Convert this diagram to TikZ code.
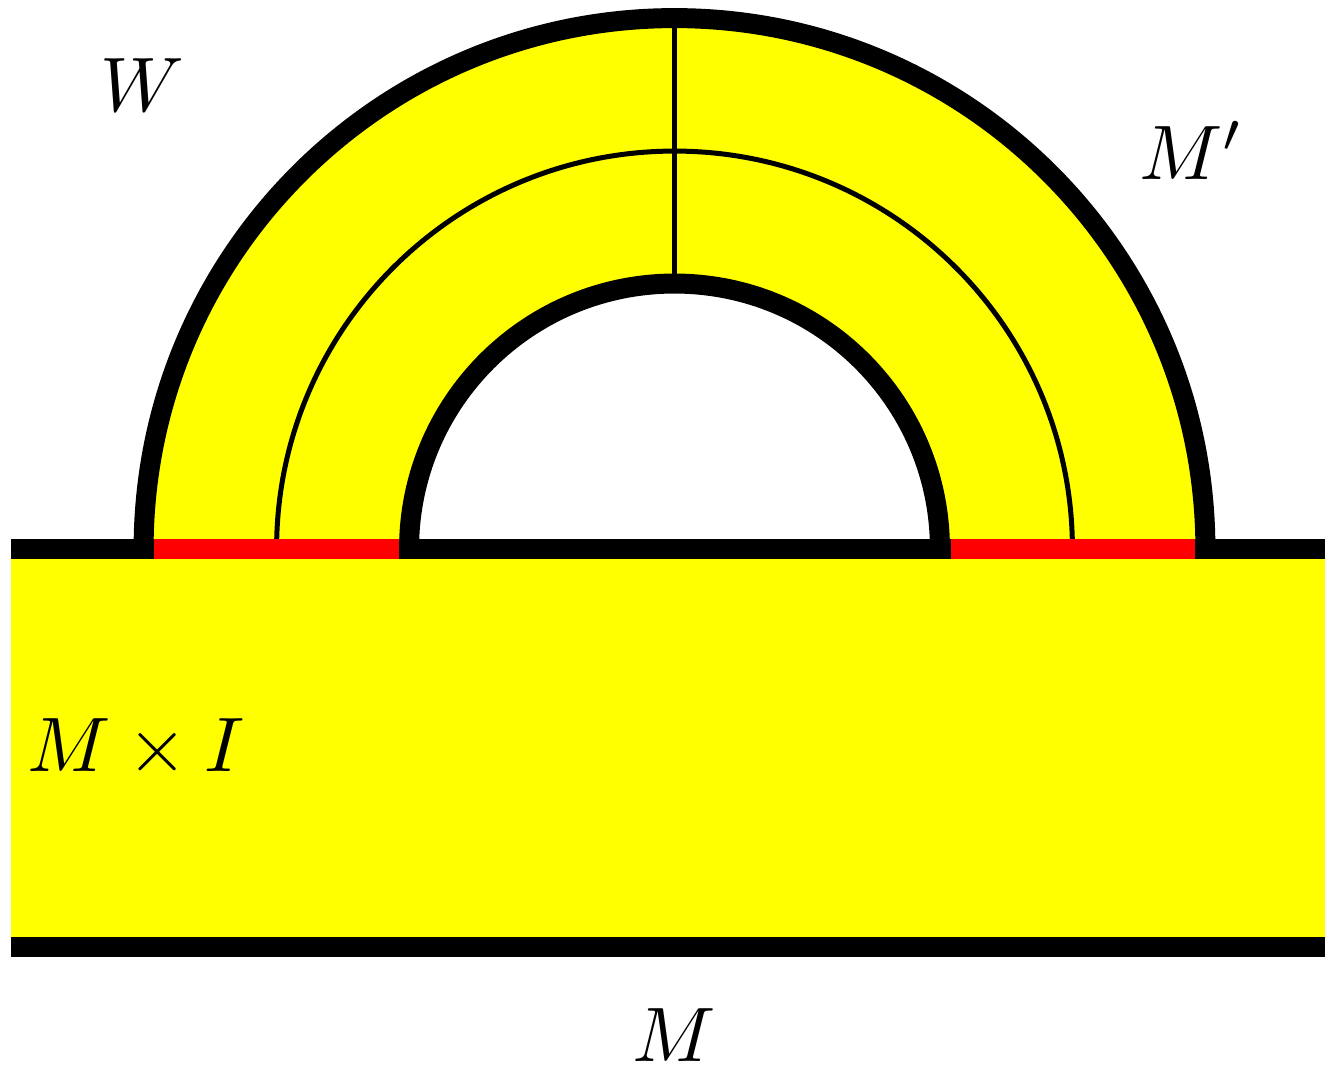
\documentclass[tikz,border=0pt]{standalone}
\usetikzlibrary{calc}
\definecolor{yel}{RGB}{255,255,0}
\definecolor{rd}{RGB}{255,0,0}
\begin{document}
\begin{tikzpicture}[x=0.02cm,y=0.02cm,
  thick line/.style={line width=0.4cm},
  thin line/.style={line width=0.1cm},
  lbl/.style={scale=4.4,anchor=base,inner sep=0pt}]
\useasboundingbox (0,0) rectangle (1325,1069);
\coordinate (c) at (674.5,520);
% yellow body
\fill[yel] (11,122) rectangle (1325,520);
% yellow annulus
\fill[yel] ($(c)+(10.62cm,0)$) arc[start angle=0,end angle=180,radius=10.62cm]
  -- ($(c)+(-5.31cm,0)$) arc[start angle=180,end angle=0,radius=5.31cm] -- cycle;
% thin lines
\draw[thin line] ($(c)+(7.96cm,0)$) arc[start angle=0,end angle=180,radius=7.96cm];
\coordinate (vt) at ($(c)+(0,10.62cm)$);
\coordinate (vb) at ($(c)+(0,5.31cm)$);
\draw[thin line] (vt) -- (vb);
% thick arcs
\draw[thick line] ($(c)+(10.62cm,0)$) arc[start angle=0,end angle=180,radius=10.62cm];
\draw[thick line] ($(c)+(5.31cm,0)$) arc[start angle=0,end angle=180,radius=5.31cm];
% boundary lines
\coordinate (tl) at (11,520); \coordinate (tr) at (1325,520);
\coordinate (bl) at (11,122); \coordinate (br) at (1325,122);
\draw[thick line] (tl) -- (tr);
\draw[thick line] (bl) -- (br);
% red segments
\coordinate (r1a) at (154,520); \coordinate (r1b) at (398.5,520);
\coordinate (r2a) at (950.5,520); \coordinate (r2b) at (1195,520);
\draw[thick line,rd] (r1a) -- (r1b);
\draw[thick line,rd] (r2a) -- (r2b);
% labels
\node[lbl] (W) at (142,957) {$W$};
\node[lbl] (Mp) at (1192,889) {$M'$};
\node[lbl] (MI) at (136,298) {$M\times I$};
\node[lbl] (M) at (674,8) {$M$};
\end{tikzpicture}
\end{document}
